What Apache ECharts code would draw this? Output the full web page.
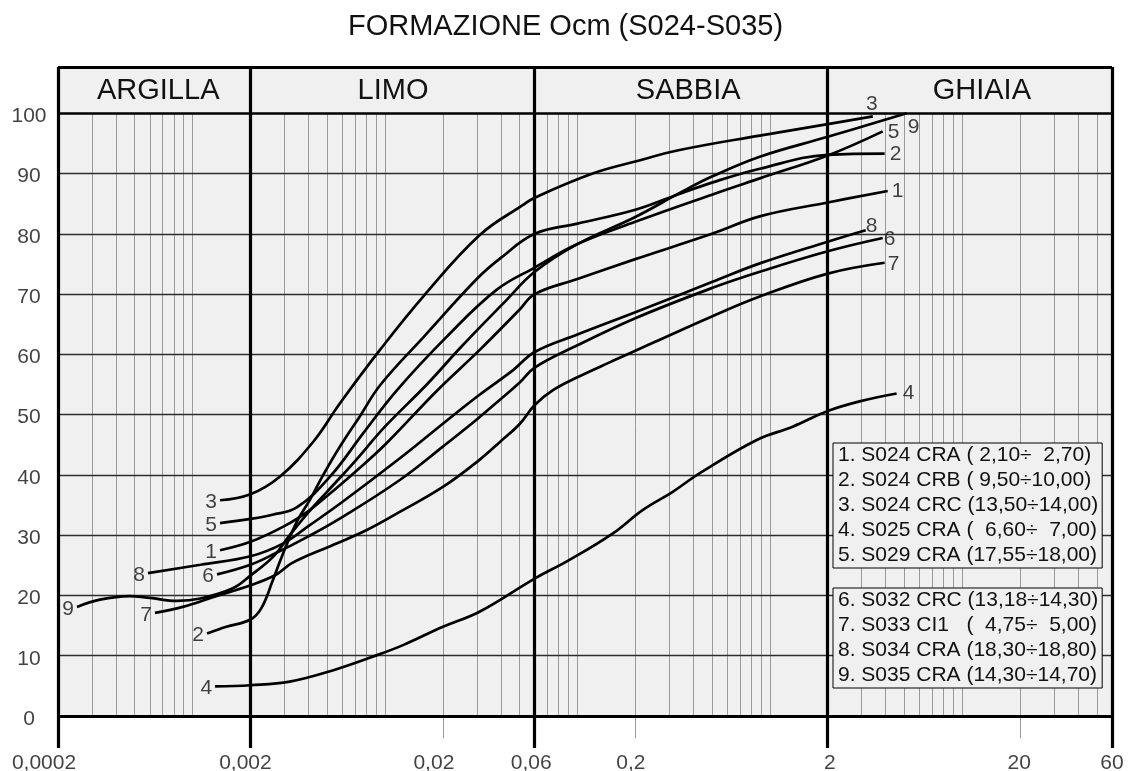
<!DOCTYPE html>
<html><head><meta charset="utf-8">
<script src="https://cdn.jsdelivr.net/npm/echarts@6/dist/echarts.min.js"></script>
<style>html,body{margin:0;padding:0;background:#fff;}#chart{width:1131px;height:771px;}</style>
</head><body><div id="chart"></div>
<script>
// ---------- data (diameter mm, % passing) ----------
const curveNames = [
  '1. S024 CRA ( 2,10÷  2,70)',
  '2. S024 CRB ( 9,50÷10,00)',
  '3. S024 CRC (13,50÷14,00)',
  '4. S025 CRA (  6,60÷  7,00)',
  '5. S029 CRA (17,55÷18,00)',
  '6. S032 CRC (13,18÷14,30)',
  '7. S033 CI1   (  4,75÷  5,00)',
  '8. S034 CRA (18,30÷18,80)',
  '9. S035 CRA (14,30÷14,70)'
];
const curve1 = [[0.00139,27.5],[0.002,28.9],[0.003,31.5],[0.004,34],[0.005,36.5],[0.007,40.5],[0.01,45],[0.0188,54.1],[0.031,60.7],[0.05,67.4],[0.06,70],[0.1,72.5],[0.2,75.8],[0.5,80],[0.887,82.9],[2,85.2],[4.1,87.1]];
const curve2 = [[0.00119,13.7],[0.0015,14.8],[0.002,16],[0.00228,17.9],[0.0026,22.3],[0.0029,26.3],[0.00349,32.3],[0.00408,35.9],[0.00478,40],[0.00584,44.7],[0.0074,49.7],[0.0095,55],[0.016,63],[0.03,72.5],[0.04,76],[0.06,80],[0.1,81.7],[0.2,84],[0.33,86.5],[0.5,88.5],[0.887,90.8],[2,93.1],[3.95,93.3]];
const curve3 = [[0.00139,35.8],[0.002,36.8],[0.00284,39.7],[0.00424,45.5],[0.00584,51.9],[0.0094,60.7],[0.0158,69.6],[0.0311,79.8],[0.0522,84.8],[0.06,86],[0.12,90],[0.2,92],[0.34,93.9],[0.887,96.3],[2,98.2],[3.43,99.5]];
const curve4 = [[0.00131,4.9],[0.002,5.1],[0.0032,5.7],[0.0054,7.6],[0.0091,10.1],[0.0125,11.8],[0.02,14.8],[0.031,17.3],[0.06,22.8],[0.091,25.9],[0.153,30.3],[0.219,34.2],[0.313,37.2],[0.433,40.3],[0.855,45.8],[1.315,48],[2,50.6],[2.93,52.2],[4.56,53.5]];
const curve5 = [[0.00139,32],[0.002,32.7],[0.0026,33.4],[0.00348,34.6],[0.00518,39.7],[0.0077,46.9],[0.0115,54],[0.0209,62.9],[0.038,70.7],[0.06,74.4],[0.1,78.3],[0.2,82],[0.5,86.5],[0.887,89.2],[2,93],[3.86,97]];
const curve6 = [[0.00134,23.5],[0.002,25.1],[0.0027,27],[0.004,29.8],[0.006,33],[0.012,39.2],[0.02,44.7],[0.03,49.2],[0.04,52.6],[0.05,55.3],[0.06,57.8],[0.1,61.5],[0.2,66],[0.5,71],[0.887,73.7],[2,77.1],[3.86,79.3]];
const curve7 = [[0.000638,17.1],[0.00089,18.1],[0.0013,19.8],[0.002,21.7],[0.0027,23.4],[0.0033,25.4],[0.0054,28.4],[0.0081,30.9],[0.012,33.9],[0.02,38],[0.031,42.5],[0.04,45.6],[0.05,48.4],[0.06,51.6],[0.075,54.1],[0.1,56.2],[0.15,58.8],[0.25,62],[0.5,66.3],[0.887,69.6],[2,73.4],[3.95,75.2]];
const curve8 = [[0.000587,23.7],[0.0011,25.1],[0.002,26.5],[0.00295,28.6],[0.004,31.5],[0.006,35.5],[0.012,42.8],[0.02,48.5],[0.031,53.3],[0.046,57.3],[0.06,60.4],[0.1,63.3],[0.2,67],[0.5,72],[0.887,75.1],[2,78.7],[3.15,80.6]];
const curve9 = [[0.000251,18.1],[0.00033,19.3],[0.00047,19.9],[0.0006,19.6],[0.00083,19.1],[0.0011,19.5],[0.00162,21.2],[0.002,23.3],[0.00262,26.4],[0.0032,30],[0.004,33.8],[0.005,37.2],[0.007,42.3],[0.01,48],[0.0165,55],[0.025,61.3],[0.0428,69],[0.06,73.7],[0.1,78.3],[0.2,82.8],[0.35,87],[0.5,89.5],[0.887,92.8],[2,96.1],[5.14,100]];
const curves = [curve1, curve2, curve3, curve4, curve5, curve6, curve7, curve8, curve9];

const xTickValues = [0.0002, 0.002, 0.02, 0.06, 0.2, 2, 20, 60];
const xTickLabels = ['0,0002', '0,002', '0,02', '0,06', '0,2', '2', '20', '60'];
const yTickValues = [0, 10, 20, 30, 40, 50, 60, 70, 80, 90, 100];
const zoneNames = ['ARGILLA', 'LIMO', 'SABBIA', 'GHIAIA'];
const zoneBounds = [0.0002, 0.002, 0.06, 2, 60];
const minorGridX = [0.0003,0.0004,0.0005,0.0006,0.0007,0.0008,0.0009,0.001,
  0.003,0.004,0.005,0.006,0.007,0.008,0.009,0.01,
  0.03,0.04,0.05,0.07,0.08,0.09,0.1,
  0.3,0.4,0.5,0.6,0.7,0.8,0.9,1,
  3,4,5,6,7,8,9,10,30,40,50];
const labeledGridX = [0.02, 0.2, 20];
const gridY = [10, 20, 30, 40, 50, 60, 70, 80, 90];

// ---------- layout / style ----------
const FONT = 'Liberation Sans, Arial, sans-serif';
const X_MIN = 0.0002, X_MAX = 60;
const Y_MIN = -5.31, Y_TOP = 107.68, Y_TICKLOW = -3.7;
const xLabelShift = [-14, -5, -9, -3.5, -4.5, 2, -1, 0];
const zoneLabelShift = [4, 0.5, 7, 12];
const endLabelStyle = {
  1: {pos: 'right', dist: 4, off: [0, 0]},
  2: {pos: 'right', dist: 5, off: [0, 1]},
  3: {pos: 'top', dist: 2, off: [-1, 0]},
  4: {pos: 'right', dist: 6, off: [0, 0]},
  5: {pos: 'right', dist: 5, off: [0, 1]},
  6: {pos: 'right', dist: 1, off: [0, 1]},
  7: {pos: 'right', dist: 3, off: [0, 1]},
  8: {pos: 'right', dist: 0, off: [0, -4]},
  9: {pos: 'right', dist: 1, off: [0, 14]}
};

const chart = echarts.init(document.getElementById('chart'), null, {renderer: 'canvas'});

const vLine = (v, y0, y1) => [{coord: [v, y0]}, {coord: [v, y1]}];
const hLine = (p) => [{coord: [X_MIN, p]}, {coord: [X_MAX, p]}];

const gridLines = []
  .concat(minorGridX.map(v => vLine(v, 0, 100)))
  .concat(labeledGridX.map(v => vLine(v, Y_TICKLOW, 100)));
const hGridLines = gridY.map(hLine);
const frameLines = zoneBounds.map(v => vLine(v, Y_MIN, Y_TOP))
  .concat([hLine(0), hLine(Y_TOP)]);

const areas = [[{coord: [X_MIN, 0], label: {show: false}}, {coord: [X_MAX, Y_TOP]}]];
zoneNames.forEach((n, i) => {
  areas.push([{name: n, coord: [zoneBounds[i], 100], label: {show: true, offset: [zoneLabelShift[i], 1]}},
              {coord: [zoneBounds[i + 1], Y_TOP]}]);
});

const curveSeries = curves.map((c, i) => ({
  name: curveNames[i], type: 'line', data: c, smooth: 0.4,
  symbol: 'none', silent: true, z: 3,
  lineStyle: {color: '#000', width: 2.7}, itemStyle: {color: '#000'},
  emphasis: {disabled: true}
}));

const labelData = [];
curves.forEach((c, i) => {
  const n = String(i + 1);
  labelData.push({value: c[0], label: {formatter: n, position: 'left', distance: 3, offset: [0, 2]}});
  const e = endLabelStyle[n];
  labelData.push({value: c[c.length - 1], label: {formatter: n, position: e.pos, distance: e.dist, offset: e.off}});
});
xTickValues.forEach((v, i) => {
  labelData.push({value: [v, Y_MIN], label: {formatter: xTickLabels[i], position: 'bottom', distance: 5, offset: [xLabelShift[i], 0]}});
});
yTickValues.forEach(v => {
  labelData.push({value: [X_MIN, v], label: {formatter: String(v), position: 'left', distance: 29, align: 'center', offset: [0, 3]}});
});

function mkLegend(data, top) {
  return {
    data: data, orient: 'vertical', left: 833, top: top,
    itemGap: 0, itemWidth: 0, itemHeight: 25, padding: [0, 4, 0, 0],
    backgroundColor: '#f0f0f0', borderColor: '#000', borderWidth: 1,
    selectedMode: false, icon: 'rect',
    itemStyle: {opacity: 0}, lineStyle: {opacity: 0},
    textStyle: {fontSize: 21, color: '#111', fontFamily: FONT}
  };
}

chart.setOption({
  animation: false,
  backgroundColor: '#fff',
  textStyle: {fontFamily: FONT},
  title: {
    text: 'FORMAZIONE Ocm (S024-S035)', left: 'center', top: 7,
    textStyle: {fontSize: 29, fontWeight: 'normal', color: '#111', fontFamily: FONT}
  },
  legend: [mkLegend(curveNames.slice(0, 5), 443), mkLegend(curveNames.slice(5), 588)],
  grid: {left: 58, right: 19, top: 67, bottom: 23},
  xAxis: {
    type: 'log', logBase: 10, min: X_MIN, max: X_MAX,
    axisLine: {show: false}, axisTick: {show: false}, axisLabel: {show: false}, splitLine: {show: false}
  },
  yAxis: {
    type: 'value', min: Y_MIN, max: Y_TOP,
    axisLine: {show: false}, axisTick: {show: false}, axisLabel: {show: false}, splitLine: {show: false}
  },
  series: [
    {
      name: 'background', type: 'line', data: [], silent: true, z: 0,
      markArea: {
        silent: true, z: 0,
        itemStyle: {color: '#f0f0f0', borderWidth: 0},
        label: {position: 'inside', fontSize: 29, color: '#111', fontFamily: FONT},
        data: areas
      }
    },
    {
      name: 'grid', type: 'line', data: [], silent: true, z: 1,
      markLine: {
        silent: true, z: 1, symbol: ['none', 'none'], label: {show: false},
        lineStyle: {color: '#9a9a9a', width: 1, type: 'solid'},
        emphasis: {disabled: true},
        data: gridLines
      }
    },
    {
      name: 'gridH', type: 'line', data: [], silent: true, z: 1,
      markLine: {
        silent: true, z: 1, symbol: ['none', 'none'], label: {show: false},
        lineStyle: {color: '#2e2e2e', width: 1.3, type: 'solid'},
        emphasis: {disabled: true},
        data: hGridLines
      }
    },
    {
      name: 'frame100', type: 'line', data: [], silent: true, z: 4,
      markLine: {
        silent: true, z: 4, symbol: ['none', 'none'], label: {show: false},
        lineStyle: {color: '#000', width: 2.5, type: 'solid'},
        emphasis: {disabled: true},
        data: [hLine(100)]
      }
    },
    {
      name: 'frame', type: 'line', data: [], silent: true, z: 4,
      markLine: {
        silent: true, z: 4, symbol: ['none', 'none'], label: {show: false},
        lineStyle: {color: '#000', width: 3.2, type: 'solid'},
        emphasis: {disabled: true},
        data: frameLines
      }
    }
  ].concat(curveSeries).concat([{
    name: 'labels', type: 'scatter', data: labelData, symbol: 'circle', symbolSize: 0,
    clip: false, silent: true, z: 6,
    itemStyle: {color: '#000'},
    label: {show: true, fontSize: 21, color: '#111', fontFamily: FONT},
    emphasis: {disabled: true}
  }])
});
</script>
</body></html>
